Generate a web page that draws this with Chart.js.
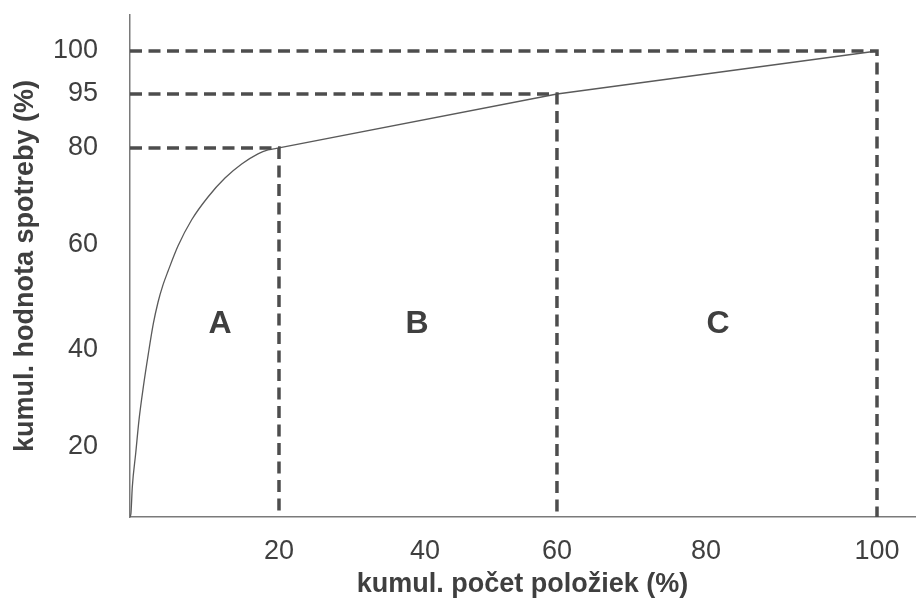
<!DOCTYPE html>
<html>
<head>
<meta charset="utf-8">
<script src="https://cdn.jsdelivr.net/npm/chart.js@4.4.1/dist/chart.umd.min.js"></script>
<style>
  html, body { margin: 0; padding: 0; background: #ffffff; }
  #c { display: block; }
</style>
</head>
<body>
<canvas id="c" width="921" height="603"></canvas>
<script>
// ---- data ----
const xTickValues = [20, 40, 60, 80, 100];
const yTickValues = [20, 40, 60, 80, 95, 100];
const curveX = [0, 0.13, 0.31, 0.77, 1.21, 1.79, 2.46, 3.13, 3.76, 4.43, 5.10, 6.44, 8.28, 10.47, 12.75, 14.99, 17.18, 18.52, 20];
const curveY = [0, 1.1, 8.6, 18.3, 25.6, 32.4, 39.2, 45.0, 49.1, 52.4, 55.0, 59.8, 65.2, 69.9, 73.8, 76.7, 78.8, 79.6, 80];
const breakX = [20, 60, 100];
const breakY = [80, 95, 100];
const zoneNames = ['A', 'B', 'C'];
const xTitle = 'kumul. počet položiek (%)';
const yTitle = 'kumul. hodnota spotreby (%)';

// ---- a piecewise-linear value axis (the sketch's axes are not drawn to scale) ----
class PiecewiseLinearScale extends Chart.LinearScale {
  _frac(v) {
    const k = this.options.knots;
    for (let i = 1; i < k.length; i++) {
      if (v <= k[i][0] || i === k.length - 1) {
        const [v0, f0] = k[i - 1], [v1, f1] = k[i];
        return f0 + (v - v0) * (f1 - f0) / (v1 - v0);
      }
    }
    return 0;
  }
  getPixelForValue(value) {
    if (value === null || value === undefined || isNaN(value)) return NaN;
    const f = this._frac(value);
    if (this.isHorizontal()) return this.left + f * (this.right - this.left);
    return this.bottom - f * (this.bottom - this.top);
  }
  getValueForPixel(pixel) {
    const f = this.isHorizontal()
      ? (pixel - this.left) / (this.right - this.left)
      : (this.bottom - pixel) / (this.bottom - this.top);
    const k = this.options.knots;
    for (let i = 1; i < k.length; i++) {
      if (f <= k[i][1] || i === k.length - 1) {
        const [v0, f0] = k[i - 1], [v1, f1] = k[i];
        return v0 + (f - f0) * (v1 - v0) / (f1 - f0);
      }
    }
    return 0;
  }
}
PiecewiseLinearScale.id = 'piecewiseLinear';
PiecewiseLinearScale.defaults = Chart.LinearScale.defaults;
Chart.register(PiecewiseLinearScale);

// ---- build datasets from the arrays ----
const curvePts = curveX.map((x, i) => ({ x: x, y: curveY[i] }));
const tailPts = breakX.map((x, i) => ({ x: x, y: breakY[i] }));

const FONT = "'Liberation Sans', Arial, sans-serif";
const TEXT = '#3f3f3f';
const DASH_COLOR = '#4d4d4d';

const datasets = [];
breakX.forEach((bx, i) => {
  datasets.push({
    data: [{ x: 0, y: breakY[i] }, { x: bx, y: breakY[i] }, { x: bx, y: 0 }],
    showLine: true, borderColor: DASH_COLOR, borderWidth: 3.5,
    borderDash: [12, 6.5], borderCapStyle: 'butt', pointRadius: 0, tension: 0, clip: false
  });
});
datasets.push({
  data: curvePts, showLine: true, borderColor: '#5a5a5a', borderWidth: 1.3,
  pointRadius: 0, cubicInterpolationMode: 'monotone'
});
datasets.push({
  data: tailPts, showLine: true, borderColor: '#5a5a5a', borderWidth: 1.3,
  pointRadius: 0, tension: 0
});

const zoneLabelPlugin = {
  id: 'zoneLabels',
  afterDatasetsDraw(chart, args, opts) {
    const { ctx, scales: { x, y } } = chart;
    ctx.save();
    ctx.font = opts.font;
    ctx.fillStyle = opts.color;
    ctx.textAlign = 'center';
    ctx.textBaseline = 'middle';
    zoneNames.forEach((n, i) => {
      ctx.fillText(n, x.getPixelForValue(opts.at[i]), y.getPixelForValue(opts.level));
    });
    ctx.restore();
  }
};

new Chart(document.getElementById('c'), {
  type: 'scatter',
  data: { datasets: datasets },
  plugins: [zoneLabelPlugin],
  options: {
    responsive: false,
    animation: false,
    devicePixelRatio: 1,
    layout: { padding: { top: 15, right: 6, left: 0, bottom: 0 } },
    plugins: {
      legend: { display: false },
      tooltip: { enabled: false },
      zoneLabels: { font: 'bold 32px ' + FONT, color: TEXT, at: [12.1, 38.9, 81.4], level: 45 }
    },
    scales: {
      x: {
        type: 'piecewiseLinear', min: 0, max: 104.4,
        knots: [[0, 0], [20, 0.1898], [40, 0.3758], [60, 0.5439], [80, 0.7338], [100, 0.9516], [104.4, 1]],
        grid: { display: false, drawTicks: false },
        border: { display: true, color: '#7a7a7a', width: 1.5 },
        afterBuildTicks: (s) => { s.ticks = xTickValues.map(v => ({ value: v })); },
        afterFit: (s) => { s.height = 86; s.paddingLeft = 0; s.paddingRight = 0; },
        ticks: { padding: 18, color: TEXT, font: { family: FONT, size: 27 }, maxRotation: 0, autoSkip: false },
        title: { display: true, text: xTitle, color: TEXT, font: { family: FONT, size: 27, weight: 'bold' }, padding: { top: 0, bottom: 2 } }
      },
      y: {
        type: 'piecewiseLinear', min: 0, max: 104.2,
        knots: [[0, 0], [20, 0.1394], [40, 0.3327], [60, 0.5418], [80, 0.7351], [95, 0.8426], [100, 0.9283], [104.2, 1]],
        grid: { display: false, drawTicks: false },
        border: { display: true, color: '#7a7a7a', width: 1.5 },
        afterBuildTicks: (s) => { s.ticks = yTickValues.map(v => ({ value: v })); },
        afterFit: (s) => { s.width = 130; s.paddingTop = 0; s.paddingBottom = 0; },
        ticks: { padding: 32, color: TEXT, font: { family: FONT, size: 27 }, autoSkip: false },
        title: { display: true, text: yTitle, color: TEXT, font: { family: FONT, size: 27, weight: 'bold' }, padding: { top: 9, bottom: 0 } }
      }
    }
  }
});
</script>
</body>
</html>
